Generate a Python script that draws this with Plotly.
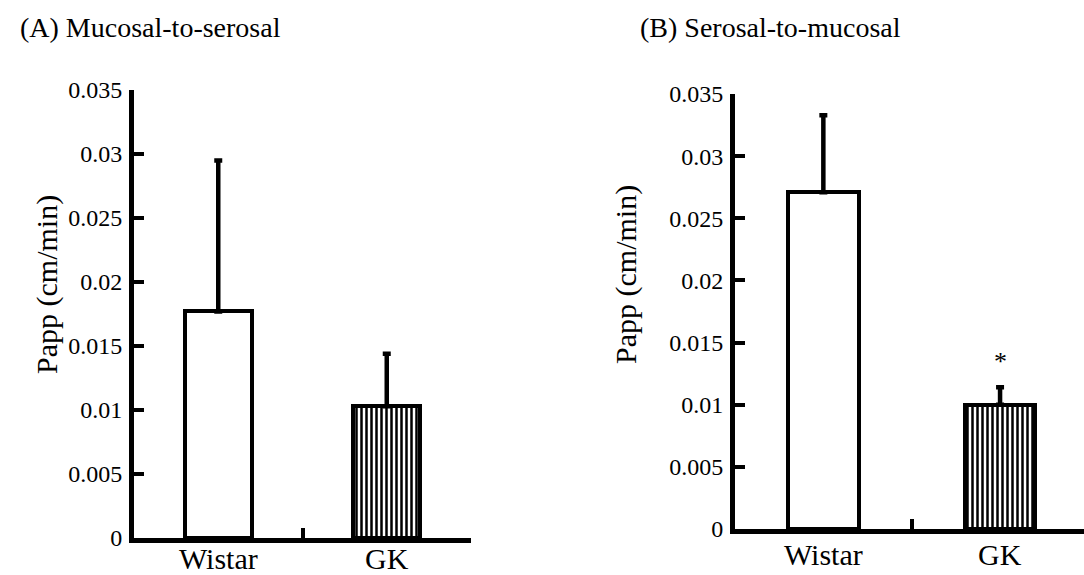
import plotly.graph_objects as go

categories = ["Wistar", "GK"]
a_means = [0.0177, 0.0103]
a_sd = [0.0118, 0.0041]
b_means = [0.0271, 0.0100]
b_sd = [0.0062, 0.0014]
yticks = [0, 0.005, 0.01, 0.015, 0.02, 0.025, 0.03, 0.035]
yticktext = ["0", "0.005", "0.01", "0.015", "0.02", "0.025", "0.03", "0.035"]
xpos = [0, 1]

FONT = "'Liberation Serif', 'Times New Roman', Times, serif"
W, H = 1084, 575

fig = go.Figure()

def add_bars(means, sd, xa, ya):
    for i, (m, s) in enumerate(zip(means, sd)):
        pattern = dict(shape="|", fgcolor="black", bgcolor="white", size=5, solidity=0.5) if i == 1 else dict(shape="")
        fig.add_trace(go.Bar(
            x=[xpos[i]], y=[m], width=0.4, xaxis=xa, yaxis=ya,
            marker=dict(color="white", line=dict(color="black", width=4), pattern=pattern),
            error_y=dict(type="data", array=[s], arrayminus=[0], symmetric=False,
                         color="black", thickness=4.5, width=4),
            showlegend=False,
        ))

add_bars(a_means, a_sd, "x", "y")
add_bars(b_means, b_sd, "x2", "y2")

# asterisk over GK in panel B
fig.add_annotation(x=xpos[1], y=b_means[1] + b_sd[1] + 0.0021, xref="x2", yref="y2",
                   text="*", showarrow=False, font=dict(family=FONT, size=26, color="black"))

axis_common = dict(showgrid=False, zeroline=False, showline=True, linecolor="black", linewidth=5,
                   ticks="inside", tickcolor="black", tickwidth=4, ticklen=10, automargin=False)

fig.update_layout(
    template="none",
    width=W, height=H, margin=dict(l=0, r=0, t=0, b=0, autoexpand=False),
    paper_bgcolor="white", plot_bgcolor="white",
    font=dict(family=FONT, color="black"),
    bargap=0,
    xaxis=dict(domain=[134 / W, 471 / W], range=[-0.5, 1.5], anchor="y",
               tickvals=[0.5, 1.5], ticktext=["", ""], **axis_common),
    yaxis=dict(domain=[(H - 538) / H, (H - 90) / H], range=[0, 0.035], anchor="x",
               tickvals=yticks, ticktext=yticktext, tickfont=dict(size=24, family=FONT),
               ticklabelstandoff=2, **axis_common),
    xaxis2=dict(domain=[735 / W, 1.0], range=[-0.5, 1.475], anchor="y2",
                tickvals=[0.5, 1.5], ticktext=["", ""], **axis_common),
    yaxis2=dict(domain=[(H - 529) / H, (H - 94) / H], range=[0, 0.035], anchor="x2",
                tickvals=yticks, ticktext=yticktext, tickfont=dict(size=24, family=FONT),
                ticklabelstandoff=2, **axis_common),
)

# category labels
for i, c in enumerate(categories):
    fig.add_annotation(x=xpos[i], y=(H - 558) / H, xref="x", yref="paper", yanchor="middle", text=c,
                       showarrow=False, font=dict(family=FONT, size=30, color="black"))
    fig.add_annotation(x=xpos[i], y=(H - 554) / H, xref="x2", yref="paper", yanchor="middle", text=c,
                       showarrow=False, font=dict(family=FONT, size=30, color="black"))

# y-axis titles
fig.add_annotation(x=28 / W, y=(H - 285) / H, xref="paper", yref="paper", text="Papp (cm/min)",
                   textangle=-90, showarrow=False, font=dict(family=FONT, size=30, color="black"))
fig.add_annotation(x=626 / W, y=(H - 275) / H, xref="paper", yref="paper", text="Papp (cm/min)",
                   textangle=-90, showarrow=False, font=dict(family=FONT, size=30, color="black"))

# panel titles
fig.add_annotation(x=18 / W, y=(H - 27) / H, xref="paper", yref="paper", xanchor="left", yanchor="middle",
                   text="(A) Mucosal-to-serosal", showarrow=False,
                   font=dict(family=FONT, size=28, color="black"))
fig.add_annotation(x=638 / W, y=(H - 27) / H, xref="paper", yref="paper", xanchor="left", yanchor="middle",
                   text="(B) Serosal-to-mucosal", showarrow=False,
                   font=dict(family=FONT, size=28, color="black"))

fig.write_html("out.html", config={"displayModeBar": False},
               post_script="document.body.style.margin='0px';document.body.style.padding='0px';")
